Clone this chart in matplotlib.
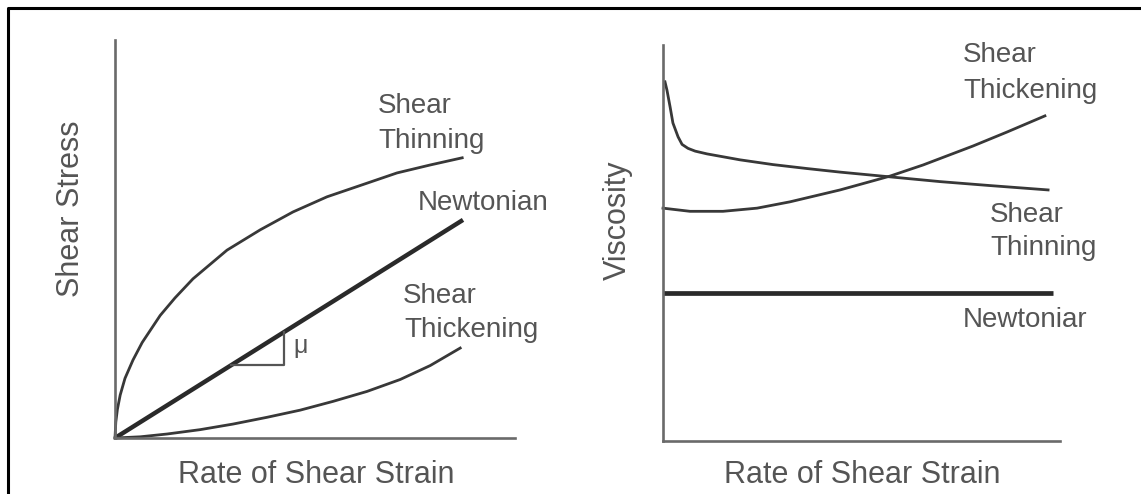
import matplotlib
matplotlib.use('Agg')
import matplotlib.pyplot as plt
from matplotlib.lines import Line2D

plt.rcParams['font.family'] = ['Liberation Sans', 'DejaVu Sans']

# left panel: shear stress vs rate of shear strain (arbitrary units, 0-10)
thin_x = [0, 0.02, 0.06, 0.13, 0.25, 0.45, 0.68, 1.13, 1.50, 1.95, 2.80, 3.63, 4.45, 5.30, 6.38, 7.05, 7.88, 8.68]
thin_y = [0, 0.40, 0.72, 1.08, 1.50, 1.96, 2.40, 3.08, 3.52, 4.00, 4.72, 5.23, 5.68, 6.06, 6.43, 6.66, 6.86, 7.04]
newt_x = [0, 8.70]
newt_y = [0, 5.48]
thick_x = [0, 0.63, 1.30, 2.13, 2.95, 3.80, 4.63, 5.45, 6.30, 7.13, 7.88, 8.63]
thick_y = [0, 0.03, 0.10, 0.21, 0.35, 0.52, 0.70, 0.92, 1.17, 1.47, 1.82, 2.26]
slope_x = [2.9, 4.23, 4.23]
slope_y = [1.83, 1.83, 2.66]

# right panel: viscosity vs rate of shear strain
vthin_x = [0.05, 0.10, 0.18, 0.25, 0.38, 0.48, 0.63, 0.81, 1.11, 1.94, 2.77, 3.63, 4.46, 5.72, 6.98, 8.24, 9.70]
vthin_y = [9.07, 8.86, 8.43, 8.03, 7.68, 7.49, 7.39, 7.32, 7.25, 7.10, 6.98, 6.88, 6.79, 6.67, 6.55, 6.45, 6.34]
vthick_x = [0, 0.68, 1.51, 2.37, 3.20, 4.46, 5.29, 5.72, 6.55, 7.81, 8.66, 9.62]
vthick_y = [5.88, 5.80, 5.80, 5.88, 6.04, 6.34, 6.57, 6.69, 6.97, 7.45, 7.80, 8.21]
vnewt_x = [0, 9.82]
vnewt_y = [3.74, 3.74]

W, H = 1141, 494
fig = plt.figure(figsize=(W / 100, H / 100), dpi=100)

def px(x, y):
    return x / W, 1 - y / H

axis_col = '#6a6a6a'
line_col = '#383838'
text_col = '#555555'

def setup(ax):
    ax.set_xlim(0, 10)
    ax.set_ylim(0, 10)
    for s in ['top', 'right']:
        ax.spines[s].set_visible(False)
    for s in ['left', 'bottom']:
        ax.spines[s].set_color(axis_col)
        ax.spines[s].set_linewidth(1.9)
    ax.set_xticks([])
    ax.set_yticks([])
    ax.patch.set_alpha(0)

curve = dict(color=line_col, lw=2.0, clip_on=False, solid_joinstyle='round')

ax1 = fig.add_axes([115 / W, 1 - 438 / H, 400 / W, 398 / H])
setup(ax1)
ax1.plot(thin_x, thin_y, **curve)
ax1.plot(newt_x, newt_y, color='#2a2a2a', lw=3.2, clip_on=False, solid_capstyle='butt')
ax1.plot(thick_x, thick_y, **curve)
ax1.plot(slope_x, slope_y, color='#555555', lw=1.6, clip_on=False)

ax2 = fig.add_axes([663 / W, 1 - 441 / H, 397 / W, 396 / H])
setup(ax2)
ax2.plot(vthin_x, vthin_y, **curve)
ax2.plot(vthick_x, vthick_y, **curve)
ax2.plot(vnewt_x, vnewt_y, color='#2a2a2a', lw=3.4, clip_on=False, solid_capstyle='butt')

def label(x, y, s, size=20, **kw):
    fig.text(*px(x, y), s, fontsize=size, color=text_col, va='baseline', **kw)

# left annotations
label(378, 113, 'Shear')
label(378, 148, 'Thinning')
label(418, 210, 'Newtonian')
label(403, 303, 'Shear')
label(404, 337, 'Thickening')
fig.text(*px(293, 346), 'μ', fontsize=18, color=text_col, va='center')

# right annotations
label(963, 62, 'Shear')
label(963, 98, 'Thickening')
label(990, 222, 'Shear')
label(990, 255, 'Thinning')
label(963, 327, 'Newtoniar')

# axis titles
label(316, 483, 'Rate of Shear Strain', size=22, ha='center')
label(862, 483, 'Rate of Shear Strain', size=22, ha='center')
fig.text(*px(79, 209), 'Shear Stress', fontsize=22, color=text_col, rotation=90,
         rotation_mode='anchor', ha='center', va='baseline')
fig.text(*px(626, 220), 'Viscosity', fontsize=22, color=text_col, rotation=90,
         rotation_mode='anchor', ha='center', va='baseline')

# border (top and left edges only)
fig.add_artist(Line2D([8 / W, 8 / W, 1], [0, 1 - 8 / H, 1 - 8 / H],
                      transform=fig.transFigure, color='black', lw=2.2))

fig.savefig('out.png', dpi=100)
